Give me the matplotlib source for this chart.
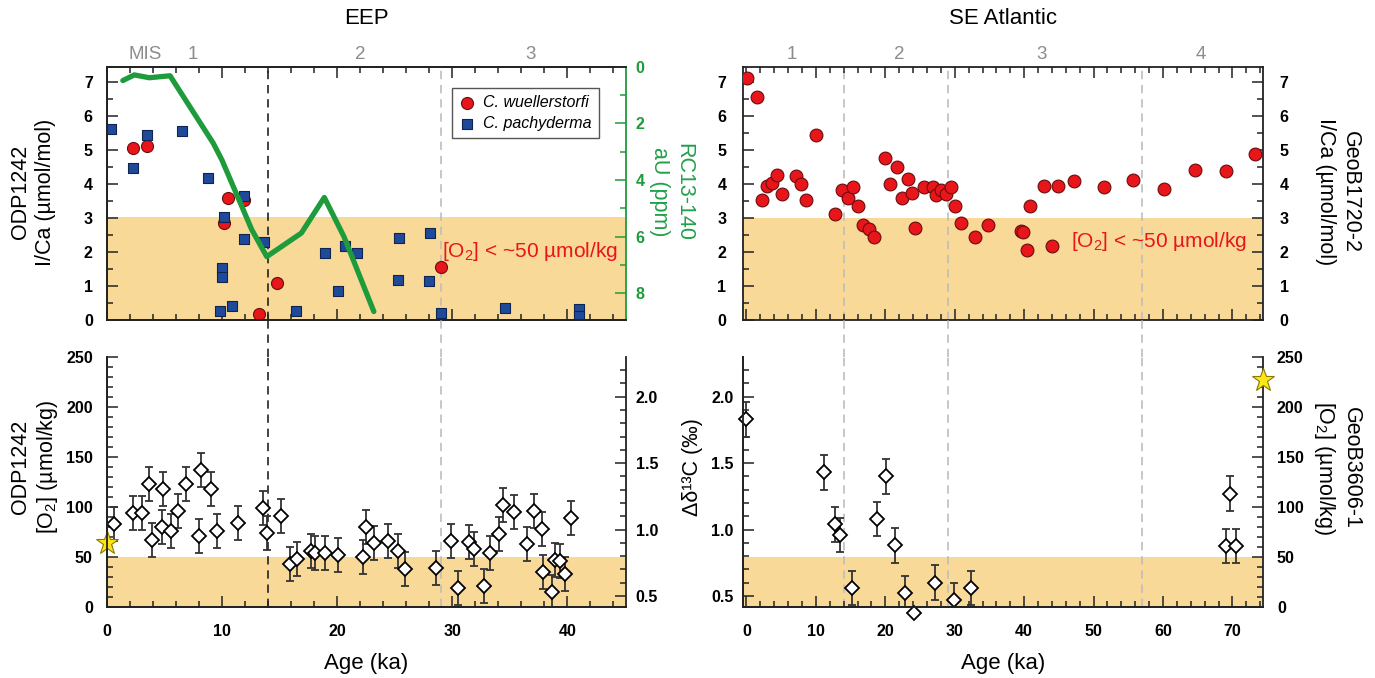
import numpy as np
import matplotlib.pyplot as plt
import matplotlib.transforms as mtransforms
from matplotlib.lines import Line2D
from matplotlib.ticker import MultipleLocator

plt.rcParams['font.family'] = ['Liberation Sans', 'DejaVu Sans']
plt.rcParams['font.weight'] = 'bold'
plt.rcParams['mathtext.default'] = 'regular'

# ---- EEP, ODP1242 I/Ca ----
wuel_age = [2.3, 3.5, 10.5, 11.9, 10.2, 14.75, 13.2, 29.0]
wuel_ica = [5.06, 5.10, 3.57, 3.53, 2.84, 1.08, 0.19, 1.56]
pach_age = [0.4, 2.3, 3.5, 6.5, 8.8, 10.2, 11.9, 11.9, 10.0, 10.0, 9.8, 10.9, 13.7,
            16.4, 19.0, 20.1, 20.7, 21.7, 25.4, 25.3, 28.1, 28.0, 29.0, 34.6, 41.0, 41.0]
pach_ica = [5.62, 4.46, 5.42, 5.54, 4.16, 3.03, 3.65, 2.39, 1.53, 1.26, 0.27, 0.41, 2.29,
            0.25, 1.97, 0.84, 2.17, 1.97, 2.40, 1.18, 2.56, 1.16, 0.22, 0.36, 0.31, 0.12]

# ---- RC13-140 authigenic U ----
au_age = [1.4, 2.4, 3.7, 5.5, 9.25, 10.0, 12.6, 13.9, 16.9, 18.9, 20.6, 23.2]
au_ppm = [0.49, 0.29, 0.39, 0.32, 2.70, 3.29, 5.76, 6.71, 5.88, 4.62, 6.0, 8.65]

# ---- EEP, ODP1242 [O2] ----
o2_age = [0.67, 2.3, 3.1, 3.65, 3.9, 4.8, 4.9, 5.6, 6.2, 6.9, 8.0, 8.2, 9.1, 9.6, 11.4,
          13.6, 13.9, 15.1, 15.9, 16.5, 17.7, 18.1, 19.0, 20.1, 22.3, 22.5, 23.2, 24.4,
          25.3, 25.9, 28.6, 29.9, 30.5, 31.5, 31.9, 32.8, 33.3, 34.05, 34.4, 35.4, 36.5,
          37.1, 37.8, 37.9, 38.7, 38.9, 39.4, 39.8, 40.3]
o2_val = [83, 94, 94, 123, 67, 80, 118, 76, 96, 123, 71, 137, 118, 76, 84,
          99, 74, 91, 43, 48, 56, 54, 54, 52, 50, 80, 64, 66,
          56, 38, 39, 66, 19, 65, 58, 21, 54, 73, 102, 95, 63,
          96, 78, 35, 15, 47, 46, 33, 89]
o2_err = 17
o2_modern_eep = 64

# ---- SE Atlantic, GeoB1720-2 I/Ca ----
sea_age = [0.1, 1.5, 2.25, 2.9, 3.7, 4.4, 5.1, 7.2, 7.9, 8.6, 10.0, 12.8, 13.8, 14.6,
           15.3, 16.1, 16.8, 17.6, 18.4, 20.0, 20.7, 21.7, 22.4, 23.3, 23.9, 24.3, 25.5,
           26.8, 27.3, 28.0, 28.8, 29.5, 30.1, 30.9, 32.9, 34.8, 39.6, 39.9, 40.4, 40.8,
           42.9, 44.0, 44.9, 47.2, 51.5, 55.7, 60.2, 64.6, 69.0, 73.2]
sea_ica = [7.10, 6.55, 3.53, 3.95, 4.02, 4.27, 3.70, 4.24, 4.00, 3.51, 5.43, 3.11, 3.82, 3.57,
           3.90, 3.35, 2.78, 2.68, 2.43, 4.77, 3.99, 4.49, 3.57, 4.14, 3.72, 2.71, 3.92,
           3.92, 3.67, 3.82, 3.70, 3.92, 3.35, 2.86, 2.43, 2.78, 2.62, 2.58, 2.06, 3.36,
           3.94, 2.18, 3.94, 4.09, 3.92, 4.10, 3.85, 4.42, 4.37, 4.87]

# ---- SE Atlantic, GeoB3606-1 delta d13C ----
d13_age = [0.0, 11.2, 12.75, 13.5, 15.2, 18.8, 20.1, 21.4, 22.9, 24.2, 27.1, 29.9, 32.4,
           69.7, 69.1, 70.5]
d13_val = [1.83, 1.43, 1.04, 0.96, 0.56, 1.08, 1.40, 0.88, 0.52, 0.37, 0.60, 0.47, 0.56,
           1.27, 0.876, 0.876]
d13_err = [0.13, 0.13, 0.13, 0.13, 0.13, 0.13, 0.13, 0.13, 0.13, 0.0, 0.13, 0.13, 0.13,
           0.13, 0.13, 0.13]
o2_modern_sea = 227

mis_eep = [('MIS', 3.3), ('1', 7.5), ('2', 22), ('3', 36.8)]
mis_sea = [('1', 6.5), ('2', 22), ('3', 42.5), ('4', 65.5)]

SHADE = '#F9D998'
RED = '#E8151B'
BLUE = '#1F4A9A'
GREEN = '#1E9B3B'
STAR = '#FFE617'
W, H = 1375, 678


def style(ax, pad=10):
    ax.tick_params(which='both', direction='in', width=1.1, color='#222',
                   labelsize=11.5, pad=pad)
    ax.tick_params(which='major', length=8)
    ax.tick_params(which='minor', length=4)
    for s in ax.spines.values():
        s.set_linewidth(1.3)
        s.set_color('#222')


def rect(x0, y0, x1, y1):
    return [x0 / W, 1 - y1 / H, (x1 - x0) / W, (y1 - y0) / H]


fig = plt.figure(figsize=(13.75, 6.78), dpi=100)
ax_tl = fig.add_axes(rect(106.7, 66.7, 626, 320))
ax_bl = fig.add_axes(rect(106.7, 357, 626, 607))
ax_tr = fig.add_axes(rect(743, 66.7, 1263, 320))
ax_br = fig.add_axes(rect(743, 357, 1263, 607))

# ---------- top left ----------
ax = ax_tl
ax.axhspan(0, 3.02, color=SHADE, lw=0, zorder=0)
ax.scatter(wuel_age, wuel_ica, s=75, marker='o', color=RED, edgecolor='#6a0d0d',
           linewidth=0.8, zorder=3, label='C. wuellerstorfi')
ax.scatter(pach_age, pach_ica, s=55, marker='s', color=BLUE, edgecolor='#0d2550',
           linewidth=0.8, zorder=4, label='C. pachyderma')
ax.set_xlim(0, 45.1)
ax.set_ylim(0, 7.44)
ax.xaxis.set_major_locator(MultipleLocator(10))
ax.xaxis.set_minor_locator(MultipleLocator(2))
ax.yaxis.set_major_locator(MultipleLocator(1))
ax.yaxis.set_minor_locator(MultipleLocator(0.5))
style(ax)
ax.tick_params(axis='x', which='both', top=True, bottom=True, labelbottom=False)
ax.spines['right'].set_visible(False)
leg = ax.legend(loc='upper right', bbox_to_anchor=(0.948, 0.915), fancybox=False,
                edgecolor='#555', framealpha=1, handlelength=1.0, handletextpad=0.5,
                borderpad=0.45, labelspacing=0.35, borderaxespad=0,
                prop={'style': 'italic', 'size': 11.5, 'weight': 'normal'})
leg.get_frame().set_linewidth(1.0)
ax.text(29.1, 2.0, '[O$_2$] < ~50 µmol/kg', color='#E8151B', fontsize=15,
        fontweight='normal', ha='left', va='center', zorder=5)
for lab, x in mis_eep:
    ax.text(x, 1.047, lab, transform=mtransforms.blended_transform_factory(ax.transData, ax.transAxes),
            ha='center', va='center', color='#8c8c8c', fontsize=13.5, fontweight='normal')

axg = ax.twinx()
axg.plot(au_age, au_ppm, color=GREEN, lw=3.8, solid_capstyle='round',
         solid_joinstyle='round', zorder=3)
axg.set_ylim(8.95, 0)
axg.yaxis.set_major_locator(MultipleLocator(2))
axg.yaxis.set_minor_locator(MultipleLocator(1))
style(axg, pad=7)
axg.tick_params(axis='y', which='both', color=GREEN, labelcolor=GREEN)
axg.spines['right'].set_color(GREEN)

# ---------- bottom left ----------
ax = ax_bl
ax.axhspan(0, 50, color=SHADE, lw=0, zorder=0)
ax.errorbar(o2_age, o2_val, yerr=o2_err, fmt='D', ms=7.5, mfc='white', mec='black',
            mew=1.3, ecolor='#333', elinewidth=1.3, capsize=3, capthick=1.3, zorder=3)
ax.plot([0], [o2_modern_eep], marker='*', ms=17, color=STAR, mec='#8a7a00', mew=0.8,
        clip_on=False, zorder=6, ls='none')
ax.set_xlim(0, 45.1)
ax.set_ylim(0, 250)
ax.xaxis.set_major_locator(MultipleLocator(10))
ax.xaxis.set_minor_locator(MultipleLocator(2))
ax.yaxis.set_major_locator(MultipleLocator(50))
ax.yaxis.set_minor_locator(MultipleLocator(10))
style(ax)
ax.tick_params(axis='x', pad=12)
ax.spines['top'].set_visible(False)
ax.spines['right'].set_visible(False)
axd = ax.twinx()
axd.set_ylim(0.417, 2.299)
axd.yaxis.set_major_locator(MultipleLocator(0.5))
axd.yaxis.set_minor_locator(MultipleLocator(0.1))
axd.yaxis.set_major_formatter(plt.FormatStrFormatter('%.1f'))
style(axd, pad=7)
axd.spines['top'].set_visible(False)

# ---------- top right ----------
ax = ax_tr
ax.axhspan(0, 3.0, color=SHADE, lw=0, zorder=0)
ax.scatter(sea_age, sea_ica, s=85, marker='o', color=RED, edgecolor='#6a0d0d',
           linewidth=0.8, zorder=3)
ax.set_xlim(-0.5, 74.4)
ax.set_ylim(0, 7.44)
ax.xaxis.set_major_locator(MultipleLocator(10))
ax.xaxis.set_minor_locator(MultipleLocator(2))
ax.yaxis.set_major_locator(MultipleLocator(1))
ax.yaxis.set_minor_locator(MultipleLocator(0.5))
style(ax, pad=12)
ax.tick_params(axis='x', which='both', top=True, bottom=True, labelbottom=False)
ax.tick_params(axis='y', which='both', left=True, right=True, labelleft=True, labelright=True)
ax.text(46.7, 2.3, '[O$_2$] < ~50 µmol/kg', color='#E8151B', fontsize=15,
        fontweight='normal', ha='left', va='center', zorder=5)
for lab, x in mis_sea:
    ax.text(x, 1.047, lab, transform=mtransforms.blended_transform_factory(ax.transData, ax.transAxes),
            ha='center', va='center', color='#8c8c8c', fontsize=13.5, fontweight='normal')

# ---------- bottom right ----------
ax = ax_br
ax.axhspan(0.417, 0.795, color=SHADE, lw=0, zorder=0)
ax.errorbar(d13_age, d13_val, yerr=d13_err, fmt='none', ecolor='#333', elinewidth=1.3,
            capsize=3, capthick=1.3, zorder=3)
ax.plot(d13_age, d13_val, 'D', ms=7.5, mfc='white', mec='black', mew=1.3,
        clip_on=False, zorder=4)
ax.set_xlim(-0.5, 74.4)
ax.set_ylim(0.417, 2.299)
ax.xaxis.set_major_locator(MultipleLocator(10))
ax.xaxis.set_minor_locator(MultipleLocator(2))
ax.yaxis.set_major_locator(MultipleLocator(0.5))
ax.yaxis.set_minor_locator(MultipleLocator(0.1))
ax.yaxis.set_major_formatter(plt.FormatStrFormatter('%.1f'))
style(ax, pad=7)
ax.tick_params(axis='x', pad=12)
ax.spines['top'].set_visible(False)
ax.spines['right'].set_visible(False)
axo = ax.twinx()
axo.set_ylim(0, 250)
axo.plot([74.4], [o2_modern_sea], marker='*', ms=17, color=STAR, mec='#8a7a00', mew=0.8,
         clip_on=False, zorder=6, ls='none')
axo.yaxis.set_major_locator(MultipleLocator(50))
axo.yaxis.set_minor_locator(MultipleLocator(10))
style(axo, pad=10)
axo.spines['top'].set_visible(False)

# ---------- dashed stage boundaries ----------
gap = (1 - 357 / H, 1 - 320 / H)


def boundary(ax_top, ax_bot, x, color):
    for a in (ax_top, ax_bot):
        a.axvline(x, color=color, ls=(0, (5, 3.5)), lw=1.2, zorder=1)
    tr = mtransforms.blended_transform_factory(ax_top.transData, fig.transFigure)
    fig.add_artist(Line2D([x, x], gap, transform=tr, color=color, ls=(0, (5, 3.5)), lw=1.2))


boundary(ax_tl, ax_bl, 14, '#222222')
boundary(ax_tl, ax_bl, 29, '#bdbdbd')
for xb in (14, 29, 57):
    boundary(ax_tr, ax_br, xb, '#bdbdbd')

# ---------- titles and axis labels ----------
def ftext(x, y, s, **kw):
    kw.setdefault('fontweight', 'normal')
    kw.setdefault('ha', 'center')
    kw.setdefault('va', 'center')
    fig.text(x / W, 1 - y / H, s, **kw)


ftext(366.5, 18, 'EEP', fontsize=16)
ftext(1003, 18, 'SE Atlantic', fontsize=16)
ftext(366.5, 663, 'Age (ka)', fontsize=16)
ftext(1003, 663, 'Age (ka)', fontsize=16)
ftext(33, 192, 'ODP1242\nI/Ca (µmol/mol)', fontsize=15.5, rotation=90, multialignment='center')
ftext(672, 192, 'RC13-140\naU (ppm)', fontsize=15.5, rotation=270, color='#22A04A',
      multialignment='center')
ftext(1338, 192, 'GeoB1720-2\nI/Ca (µmol/mol)', fontsize=15.5, rotation=270,
      multialignment='center')
ftext(35, 467, 'ODP1242\n[O$_2$] (µmol/kg)', fontsize=15.5, rotation=90, multialignment='center')
ftext(692, 467, 'Δδ¹³C (‰)', fontsize=15.5, rotation=90)
ftext(1337, 468, 'GeoB3606-1\n[O$_2$] (µmol/kg)', fontsize=15.5, rotation=270,
      multialignment='center')

fig.savefig('out.png', dpi=100)
